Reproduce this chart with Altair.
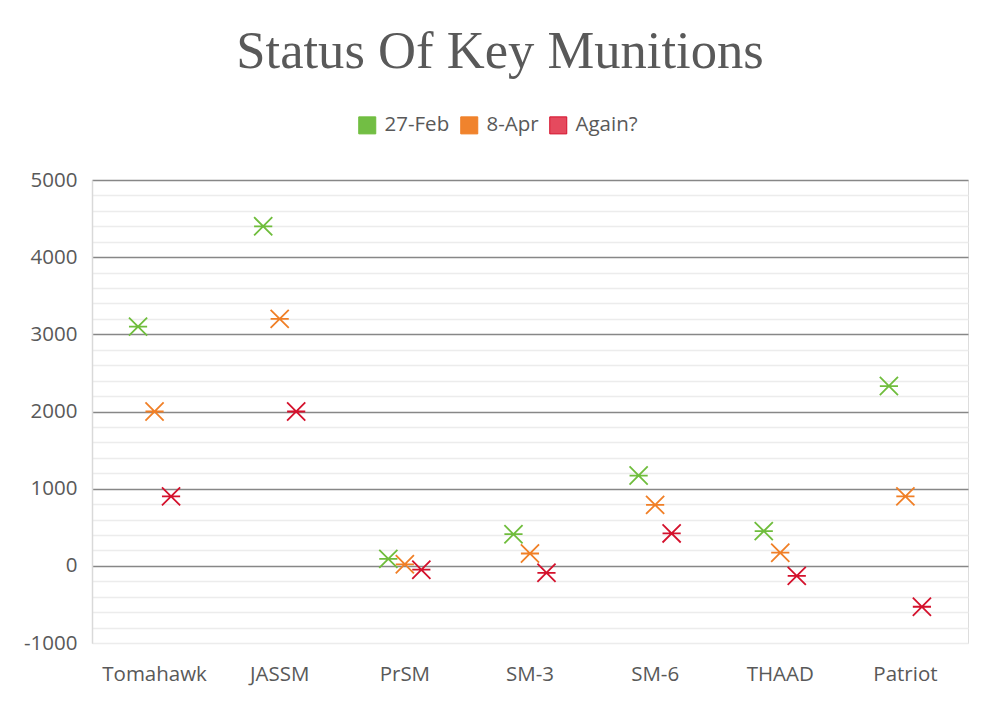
import altair as alt
import pandas as pd

categories = ["Tomahawk", "JASSM", "PrSM", "SM-3", "SM-6", "THAAD", "Patriot"]
series = ["27-Feb", "8-Apr", "Again?"]
series_slot = [-1, 0, 1]
feb27 = [3100, 4400, 90, 410, 1170, 450, 2330]
apr8 = [2000, 3200, 20, 160, 790, 170, 900]
again = [900, 2000, -50, -90, 420, -130, -530]

rows = []
for s, slot, vals in zip(series, series_slot, [feb27, apr8, again]):
    for c, v in zip(categories, vals):
        rows.append({"cat": c, "series": s, "slot": slot, "value": v})
df = pd.DataFrame(rows)

marker_colors = ["#6fbd3c", "#f07f26", "#d4112c"]
legend_fill = ["#72be44", "#f0832d", "#e54a5e"]
star = "M-1,-1L1,1M-1,1L1,-1M-1,0L1,0"

grid_vals = list(range(-1000, 5001, 200))
major_test = "datum.value % 1000 === 0 && datum.value > -1000"

base = alt.Chart(df)

points = base.mark_point(shape=star, size=330, strokeWidth=1.8, filled=False, opacity=1).encode(
    x=alt.X("cat:N", sort=categories, title=None,
            scale=alt.Scale(paddingInner=0, paddingOuter=0),
            axis=alt.Axis(labelAngle=0, ticks=False, domain=False, labelPadding=21,
                          labelFontSize=20.5, labelColor="#595959", labelFont="Open Sans")),
    xOffset=alt.XOffset("slot:Q",
                        scale=alt.Scale(domain=[-1, 1], range=[46.05, 79.05])),
    y=alt.Y("value:Q", title=None,
            scale=alt.Scale(domain=[-1000, 5000], nice=False),
            axis=alt.Axis(values=grid_vals,
                          labelExpr="datum.value % 1000 === 0 ? '' + datum.value : ''",
                          ticks=False, domain=True, domainColor="#d9d9d9", domainWidth=1.5,
                          grid=True,
                          gridColor={"condition": {"test": major_test, "value": "#878787"},
                                     "value": "#ececec"},
                          gridWidth=1.5,
                          labelPadding=15, labelFontSize=20.5, labelColor="#595959",
                          labelFont="Open Sans")),
    color=alt.Color("series:N", sort=series,
                    scale=alt.Scale(domain=series, range=marker_colors),
                    legend=None),
)

legend_pts = base.mark_square(size=0, opacity=0).encode(
    fill=alt.Fill("series:N", sort=series,
                  scale=alt.Scale(domain=series, range=legend_fill),
                  legend=alt.Legend(orient="none", legendX=265, legendY=-65, direction="horizontal",
                                    title=None, symbolType="square", symbolSize=290,
                                    symbolStrokeWidth=1, symbolOpacity=1,
                                    labelFontSize=20.5, labelColor="#595959", labelFont="Open Sans",
                                    columnPadding=8, labelOffset=7,
                                    symbolStrokeColor="#c8102e")),
)

chart = alt.layer(legend_pts, points).properties(
    width=876, height=463,
    title=alt.TitleParams("Status Of Key Munitions", font="Liberation Serif", fontSize=52.6,
                          fontWeight="normal", color="#595959", anchor="middle", offset=36,
                          dx=-30),
    padding={"left": 84, "top": 172, "right": 24, "bottom": 50},
    autosize=alt.AutoSizeParams(type="none"),
).configure_view(stroke=None).configure(background="white")

chart.save("out.html", embed_options={"renderer": "svg", "actions": False})
